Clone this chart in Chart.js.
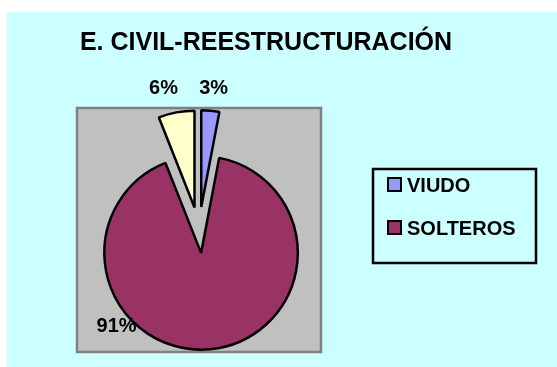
<!DOCTYPE html>
<html>
<head>
<meta charset="utf-8">
<script src="https://cdn.jsdelivr.net/npm/chart.js@4.4.1/dist/chart.umd.min.js"></script>
<style>
  html, body { margin: 0; padding: 0; background: #ffffff; }
  #wrap { width: 557px; height: 367px; position: relative; }
</style>
</head>
<body>
<div id="wrap"><canvas id="c"></canvas></div>
<script>
// Chart content
const chartTitle = 'E. CIVIL-REESTRUCTURACIÓN';
const categories = ['VIUDO', 'SOLTEROS', ''];
const percentages = [3, 91, 6];

// Styling
const sliceColors = ['#9999FF', '#993366', '#FFFFCC'];
const explodeDistance = [24, 22, 24];
// label placement: angle (deg, clockwise from 12 o'clock) and distance from the slice apex
const labelPlacement = [
  { angle: 6, dist: 119 },
  { angle: 229, dist: 112 },
  { angle: -14.6, dist: 123 }
];
const FONT = '"Liberation Sans", Arial, sans-serif';

const decor = {
  id: 'decor',
  afterUpdate(chart) {
    // pull every slice away from the centre along its bisector
    const arcs = chart.getDatasetMeta(0).data;
    arcs.forEach((arc, i) => {
      const d = explodeDistance[i] || 0;
      if (!d) return;
      const mid = (arc.startAngle + arc.endAngle) / 2;
      arc.x += Math.cos(mid) * d;
      arc.y += Math.sin(mid) * d;
    });
  },
  beforeDraw(chart) {
    const { ctx } = chart;
    ctx.save();
    // chart background
    ctx.fillStyle = '#CCFFFF';
    ctx.fillRect(7, 12, 550, 355);
    // plot area
    ctx.fillStyle = '#C0C0C0';
    ctx.fillRect(77, 108, 244, 244);
    ctx.strokeStyle = '#808080';
    ctx.lineWidth = 2.5;
    ctx.strokeRect(77, 108, 244, 244);
    // title
    ctx.fillStyle = '#000000';
    ctx.font = 'bold 25px ' + FONT;
    ctx.textAlign = 'center';
    ctx.textBaseline = 'alphabetic';
    ctx.fillText(chartTitle, 266, 50);
    ctx.restore();
  },
  afterDatasetsDraw(chart) {
    const { ctx } = chart;
    const ds = chart.data.datasets[0];
    const total = ds.data.reduce((a, b) => a + b, 0);
    const arcs = chart.getDatasetMeta(0).data;
    ctx.save();
    // percentage labels
    ctx.fillStyle = '#000000';
    ctx.font = 'bold 20px ' + FONT;
    ctx.textAlign = 'center';
    ctx.textBaseline = 'middle';
    arcs.forEach((arc, i) => {
      const p = labelPlacement[i];
      const a = p.angle * Math.PI / 180;
      const x = arc.x + Math.sin(a) * p.dist;
      const y = arc.y - Math.cos(a) * p.dist;
      ctx.fillText(Math.round(ds.data[i] / total * 100) + '%', x, y);
    });
    // legend
    ctx.strokeStyle = '#000000';
    ctx.lineWidth = 2.5;
    ctx.strokeRect(373, 169, 163, 94);
    ctx.textAlign = 'left';
    ctx.textBaseline = 'alphabetic';
    let row = 0;
    chart.data.labels.forEach((label, i) => {
      if (!label) return;
      const top = 178 + row * 43;
      ctx.fillStyle = ds.backgroundColor[i];
      ctx.fillRect(388, top, 13, 13);
      ctx.lineWidth = 2;
      ctx.strokeStyle = '#000000';
      ctx.strokeRect(388, top, 13, 13);
      ctx.fillStyle = '#000000';
      ctx.fillText(label, 407, top + 14);
      row++;
    });
    ctx.restore();
  }
};

new Chart(document.getElementById('c'), {
  type: 'pie',
  data: {
    labels: categories,
    datasets: [{
      data: percentages,
      backgroundColor: sliceColors,
      borderColor: '#000000',
      borderWidth: 2.5
    }]
  },
  options: {
    responsive: true,
    maintainAspectRatio: false,
    animation: false,
    devicePixelRatio: 1,
    layout: { padding: { left: 101, right: 260, top: 133, bottom: 38 } },
    plugins: {
      legend: { display: false },
      title: { display: false },
      tooltip: { enabled: false }
    }
  },
  plugins: [decor]
});
</script>
</body>
</html>
